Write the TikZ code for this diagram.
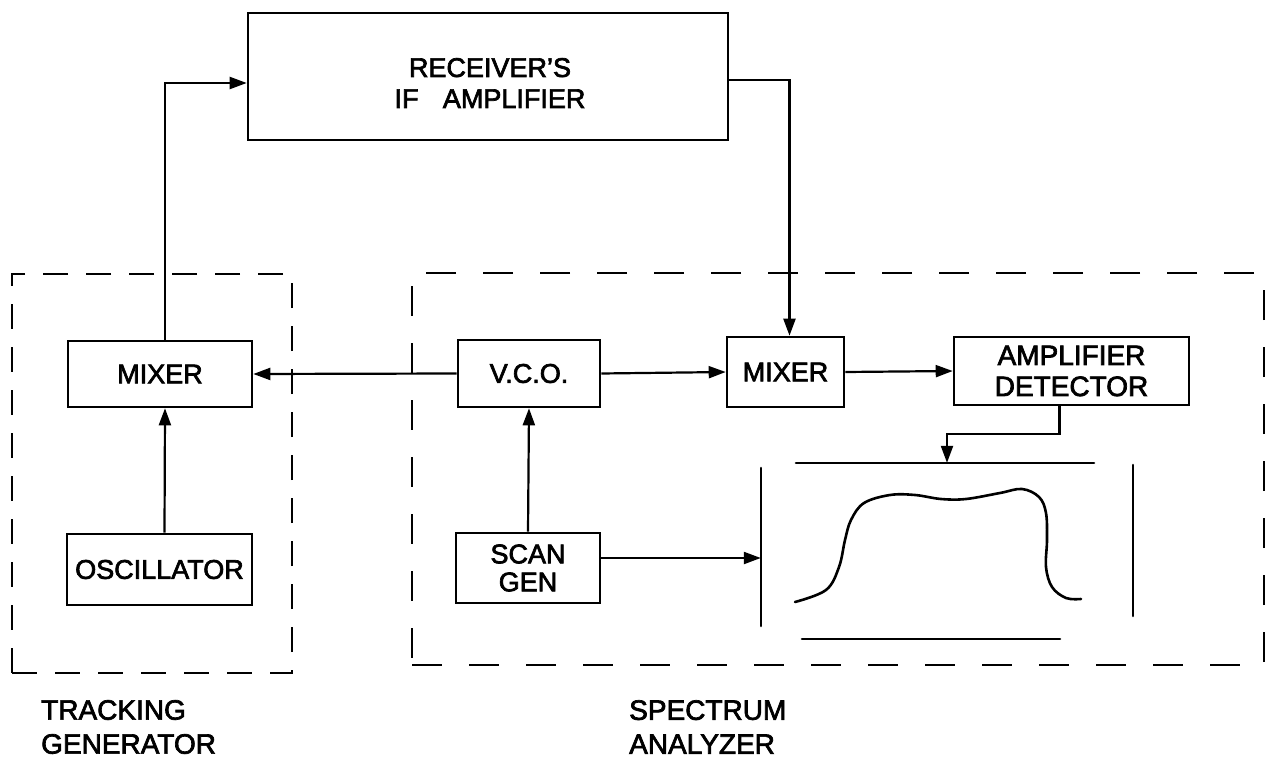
\documentclass[tikz,border=0pt]{standalone}
\usepackage{fontspec}
\setmainfont{Liberation Sans}[FakeBold=2.5]
\usetikzlibrary{arrows.meta}
\begin{document}
\begin{tikzpicture}[x=1pt,y=-1pt,
  blk/.style={draw, line width=2.6pt, inner sep=0pt, align=center, font=\fontsize{27}{31}\selectfont},
  conn/.style={line width=2.2pt},
  arr/.style={conn, -{Triangle[length=17pt,width=12pt]}},
  dbox/.style={draw, line width=2.4pt, inner sep=0pt},
  scr/.style={line width=2.6pt, line cap=round},
  lbl/.style={align=left, anchor=west, inner sep=0pt, font=\fontsize{28}{34}\selectfont}]
\useasboundingbox (0,0) rectangle (1268,759);

% dashed enclosures
\node[dbox, dash pattern=on 25pt off 18pt, minimum width=280pt, minimum height=399pt] (tg) at (152,473.5) {};
\node[dbox, dash pattern=on 30pt off 27pt, minimum width=852pt, minimum height=392pt] (sa) at (838,469) {};

% blocks
\node[blk, minimum width=480pt, minimum height=127pt] (ifamp) at (488,76.5) {};
\node[align=center, inner sep=0pt, font=\fontsize{27}{31}\selectfont] (iftext) at (490,83) {RECEIVER'S\\IF\hspace{0.9em}AMPLIFIER};
\node[blk, minimum width=184pt, minimum height=66pt] (mixL) at (160,374) {MIXER};
\node[blk, minimum width=185pt, minimum height=71pt] (osc) at (159.5,569.5) {OSCILLATOR};
\node[blk, minimum width=142pt, minimum height=67pt] (vco) at (529,373.5) {V.C.O.};
\node[blk, minimum width=144pt, minimum height=70pt, font=\fontsize{27}{28}\selectfont] (scan) at (528,568) {SCAN\\GEN};
\node[blk, minimum width=117pt, minimum height=70pt] (mixR) at (785.5,372) {MIXER};
\node[blk, minimum width=235pt, minimum height=68pt, font=\fontsize{28}{31}\selectfont] (ampdet) at (1071.5,371) {AMPLIFIER\\DETECTOR};
\node[inner sep=0pt, minimum width=372pt, minimum height=190pt] (screen) at (947,558) {};

% screen drawing
\draw[scr] (796,463) -- (1094,463);
\draw[scr] (802,639) -- (1060,639);
\draw[scr] (761,468) -- (761,626);
\draw[scr] (1133,465) -- (1133,616);
\draw[scr] plot[smooth, tension=0.6] coordinates {(795,602) (826,590) (839,567) (845,540) (851,520) (864,503) (890,495) (915,495) (941,499) (966,499) (1000,493) (1022,489) (1039,497) (1046,513) (1047,540) (1046,567) (1052,587) (1066,598) (1081,599)};

% connectors
\draw[arr] ([xshift=5pt]mixL.north) |- ([yshift=-6.5pt]ifamp.west);
\draw[arr] ([yshift=-3.5pt]ifamp.east) -| ([xshift=4pt]mixR.north);
\draw[arr] ([xshift=5pt]osc.north) -- ([xshift=5pt]mixL.south);
\draw[arr] (vco.west) -- (mixL.east);
\draw[arr] (vco.east) -- (mixR.west);
\draw[arr] (mixR.east) -- (ampdet.west);
\draw[arr] (scan.north) -- (vco.south);
\draw[arr] (scan.east |- screen.west) -- (screen.west);
\draw[arr] ([xshift=-12pt]ampdet.south) -- ++(0,28) -| (screen.north);

% labels
\node[lbl] (tglbl) at (41,727) {TRACKING\\GENERATOR};
\node[lbl] (salbl) at (629,727) {SPECTRUM\\ANALYZER};
\end{tikzpicture}
\end{document}
